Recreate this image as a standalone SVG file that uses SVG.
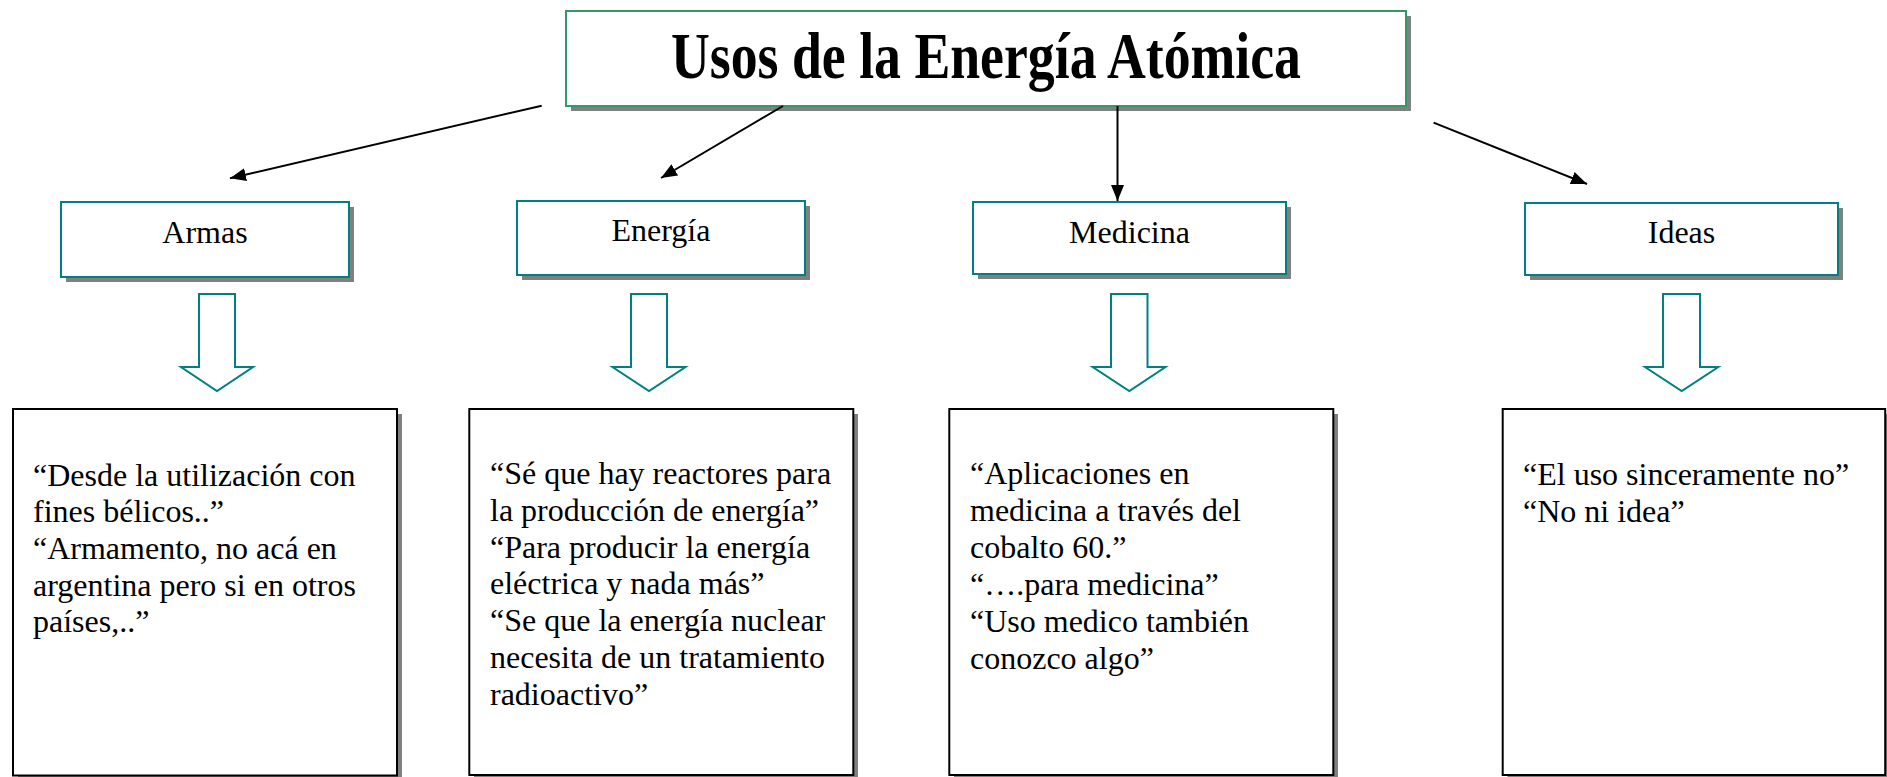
<svg xmlns="http://www.w3.org/2000/svg" width="1887" height="777" viewBox="0 0 1887 777">
<defs>
<marker id="ah" markerUnits="userSpaceOnUse" markerWidth="17" markerHeight="14" refX="16" refY="6.5" orient="auto">
<path d="M0,0 L16,6.5 L0,13 Z" fill="#000"/>
</marker>
<style>
.shadow{fill:#808080;stroke:none}
.cat{fill:#fff;stroke:#008080;stroke-width:2}
.title{fill:#fff;stroke:#339966;stroke-width:2}
.box{fill:#fff;stroke:#000;stroke-width:2}
.blk{fill:#fff;stroke:#008080;stroke-width:2;stroke-linejoin:miter}
.conn{stroke:#000;stroke-width:2;fill:none}
text{font-family:"Liberation Serif","Times New Roman",serif;fill:#000}
.lbl{font-size:32px;text-anchor:middle}
.body{font-size:32px}
.ttl{font-size:66px;font-weight:bold;text-anchor:middle}
</style>
</defs>
<rect width="1887" height="777" fill="#fff"/>

<g id="title">
<rect class="shadow" x="571" y="16" width="840" height="95"/>
<rect class="title" x="566" y="11" width="840" height="95"/>
<text class="ttl" x="986" y="78" textLength="630" lengthAdjust="spacingAndGlyphs">Usos de la Energía Atómica</text>
</g>

<g id="connectors">
<line class="conn" x1="541.7" y1="105.7" x2="230" y2="178.3" marker-end="url(#ah)"/>
<line class="conn" x1="783" y1="106" x2="661" y2="178" marker-end="url(#ah)"/>
<line class="conn" x1="1117.5" y1="106" x2="1117.5" y2="201" marker-end="url(#ah)"/>
<line class="conn" x1="1433.6" y1="122.6" x2="1587" y2="184" marker-end="url(#ah)"/>
</g>

<g id="armas">
<rect class="shadow" x="66" y="207" width="288" height="75"/>
<rect class="cat" x="61" y="202" width="288" height="75"/>
<text class="lbl" x="205" y="243">Armas</text>
</g>
<g id="energia">
<rect class="shadow" x="522" y="206" width="288" height="74"/>
<rect class="cat" x="517" y="201" width="288" height="74"/>
<text class="lbl" x="661" y="241">Energía</text>
</g>
<g id="medicina">
<rect class="shadow" x="978" y="207" width="313" height="72"/>
<rect class="cat" x="973" y="202" width="313" height="72"/>
<text class="lbl" x="1129.5" y="243">Medicina</text>
</g>
<g id="ideas">
<rect class="shadow" x="1530" y="208" width="313" height="72"/>
<rect class="cat" x="1525" y="203" width="313" height="72"/>
<text class="lbl" x="1681.5" y="243">Ideas</text>
</g>

<g id="block-arrows">
<polygon class="blk" points="199,294 235,294 235,367 253,367 217,391 181,367 199,367"/>
<polygon class="blk" points="631,294 667,294 667,367 685.5,367 649,391 612.5,367 631,367"/>
<polygon class="blk" points="1111,294 1147.5,294 1147.5,367 1165.5,367 1129.3,391 1092.7,367 1111,367"/>
<polygon class="blk" points="1663,294 1700,294 1700,367 1718.3,367 1681.7,391 1645,367 1663,367"/>
</g>

<g id="quotes-armas">
<rect class="shadow" x="18" y="414" width="384" height="367"/>
<rect class="box" x="13" y="409" width="384" height="366.5"/>
<text class="body" x="33" y="485.7">“Desde la utilización con</text>
<text class="body" x="33" y="522.4">fines bélicos..”</text>
<text class="body" x="33" y="559">“Armamento, no acá en</text>
<text class="body" x="33" y="595.7">argentina pero si en otros</text>
<text class="body" x="33" y="632.4">países,..”</text>
</g>

<g id="quotes-energia">
<rect class="shadow" x="474" y="414" width="384" height="366"/>
<rect class="box" x="469.3" y="409" width="384" height="366"/>
<text class="body" x="490" y="484">“Sé que hay reactores para</text>
<text class="body" x="490" y="520.8">la producción de energía”</text>
<text class="body" x="490" y="557.6">“Para producir la energía</text>
<text class="body" x="490" y="594.4">eléctrica y nada más”</text>
<text class="body" x="490" y="631.2">“Se que la energía nuclear</text>
<text class="body" x="490" y="668">necesita de un tratamiento</text>
<text class="body" x="490" y="704.8">radioactivo”</text>
</g>

<g id="quotes-medicina">
<rect class="shadow" x="954" y="414" width="384" height="366"/>
<rect class="box" x="949.3" y="409" width="384" height="366"/>
<text class="body" x="970" y="484">“Aplicaciones en</text>
<text class="body" x="970" y="521">medicina a través del</text>
<text class="body" x="970" y="558">cobalto 60.”</text>
<text class="body" x="970" y="595">“….para medicina”</text>
<text class="body" x="970" y="632">“Uso medico también</text>
<text class="body" x="970" y="669">conozco algo”</text>
</g>

<g id="quotes-ideas">
<rect class="shadow" x="1507.5" y="414" width="383" height="366"/>
<rect class="box" x="1502.7" y="409" width="382.5" height="366"/>
<text class="body" x="1523" y="485">“El uso sinceramente no”</text>
<text class="body" x="1523" y="521.5">“No ni idea”</text>
</g>
</svg>
